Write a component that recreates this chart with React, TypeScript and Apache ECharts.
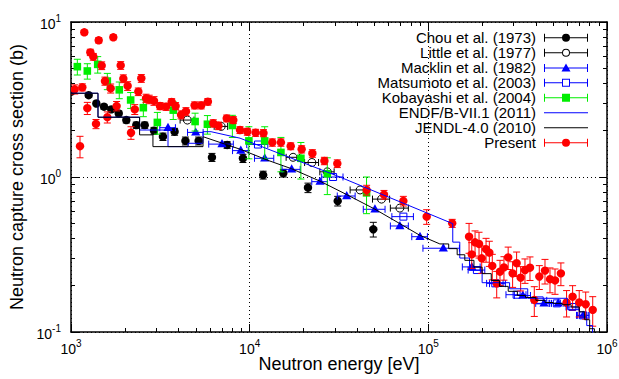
import React, { useEffect, useRef } from "react";
import * as echarts from "echarts";

const FONT = "'Liberation Sans', Arial, Helvetica, sans-serif";

// [energy eV, sigma b, d sigma b, d energy eV]
const chouData = [
  [1004, 3.55, 0.1, 0], [1256, 3.37, 0.1, 0], [1386, 2.98, 0.1, 0], [1530, 2.84, 0.1, 0],
  [1681, 2.73, 0.1, 0], [1850, 2.57, 0.1, 0], [2040, 2.33, 0.1, 0], [2320, 2.16, 0.1, 0],
  [2585, 2.16, 0.1, 0], [2915, 1.99, 0.1, 0], [3270, 1.82, 0.1, 0], [3800, 1.96, 0.1, 0],
  [4370, 1.71, 0.1, 0], [5180, 1.71, 0.1, 0], [6150, 1.34, 0.08, 0], [7480, 1.61, 0.08, 0],
  [9170, 1.32, 0.08, 0], [11900, 1.03, 0.06, 0], [15430, 1.06, 0.06, 0], [21200, 0.853, 0.06, 0],
  [31100, 0.70, 0.05, 0], [49200, 0.46, 0.05, 0],
];
const littleData = [
  [4480, 2.33, 0, 400], [6930, 2.12, 0, 600], [17500, 1.34, 0, 1500], [22300, 1.24, 0, 2000],
  [27200, 1.08, 0, 2500], [41500, 0.825, 0, 5000], [54700, 0.72, 0, 6000], [69300, 0.63, 0, 8000],
];
const macklinData = [
  [3491, 2.08, 0, 350], [4990, 1.94, 0, 500], [7000, 1.63, 0, 1100], [8920, 1.48, 0, 900],
  [12140, 1.32, 0, 1500], [17180, 1.12, 0, 2000], [24770, 0.933, 0, 2500], [34930, 0.754, 0, 4000],
  [50250, 0.619, 0, 7000], [69300, 0.483, 0, 8000], [89800, 0.412, 0, 9000], [121300, 0.347, 0, 28000],
  [175000, 0.263, 0, 20000], [245000, 0.205, 0, 25000], [338000, 0.172, 0, 35000],
  [444000, 0.153, 0, 45000], [533000, 0.153, 0, 55000], [735000, 0.128, 0, 60000],
];
const matsumotoData = [
  [11130, 1.62, 0, 1500], [29300, 1.0, 0, 4000], [72500, 0.555, 0, 10000], [187000, 0.251, 0, 20000],
  [237000, 0.206, 0, 25000], [312000, 0.174, 0, 40000], [420000, 0.16, 0, 40000],
  [524000, 0.153, 0, 50000], [640000, 0.145, 0, 50000], [735000, 0.128, 0, 50000],
];
const kobayashiData = [
  [1085, 5.15, 0.6, 0], [1234, 4.83, 0.55, 0], [1411, 5.33, 0.65, 0], [1597, 4.16, 0.5, 0],
  [1863, 3.65, 0.45, 0], [2157, 3.14, 0.37, 0], [2540, 2.8, 0.35, 0], [3043, 2.25, 0.36, 0],
  [3735, 2.7, 0.35, 0], [4950, 2.28, 0.3, 0], [5800, 2.19, 0.3, 0], [8000, 2.15, 0.35, 0],
  [9900, 1.71, 0.4, 0], [12140, 1.71, 0.4, 0], [14960, 1.44, 0.36, 0], [19350, 1.32, 0.35, 0],
  [27200, 1.05, 0.28, 0], [45100, 0.79, 0.21, 0],
];
const presentData = [
  [1049, 3.68, 0.25, 0], [1123, 1.58, 0.25, 0], [1157, 3.79, 0.2, 0], [1187, 8.58, 0.3, 0],
  [1234, 2.78, 0.25, 0], [1283, 6.37, 0.3, 0], [1333, 5.97, 0.3, 0], [1380, 2.2, 0.15, 0],
  [1429, 7.62, 0.3, 0], [1485, 5.23, 0.3, 0], [1549, 4.16, 0.25, 0], [1597, 2.43, 0.2, 0],
  [1667, 3.73, 0.25, 0], [1725, 7.97, 0.3, 0], [1800, 2.87, 0.2, 0], [1897, 5.25, 0.3, 0],
  [1963, 4.31, 0.25, 0], [2075, 3.87, 0.25, 0], [2167, 1.93, 0.18, 0], [2275, 2.73, 0.2, 0],
  [2381, 3.55, 0.2, 0], [2475, 4.33, 0.25, 0], [2630, 3.22, 0.2, 0], [2740, 3.17, 0.2, 0],
  [2915, 3.10, 0.2, 0], [3148, 2.87, 0.15, 0], [3405, 2.84, 0.15, 0], [3660, 3.05, 0.15, 0],
  [3850, 2.87, 0.15, 0], [4130, 2.52, 0.15, 0], [4400, 2.65, 0.15, 0], [4920, 2.9, 0.15, 0],
  [5355, 2.9, 0.15, 0], [5836, 3.06, 0.15, 0], [6259, 2.22, 0.12, 0], [6690, 2.14, 0.12, 0],
  [7440, 2.39, 0.12, 0], [8100, 2.33, 0.12, 0], [8830, 2.01, 0.1, 0], [9700, 1.96, 0.1, 0],
  [10800, 1.93, 0.1, 0], [11950, 1.92, 0.1, 0], [13390, 1.67, 0.09, 0], [14960, 1.67, 0.09, 0],
  [16970, 1.58, 0.08, 0], [19540, 1.51, 0.08, 0], [22440, 1.42, 0.08, 0], [26200, 1.27, 0.07, 0],
  [30940, 1.22, 0.07, 0], [45150, 0.824, 0.06, 0], [56460, 0.769, 0.05, 0], [72470, 0.70, 0.05, 0],
  [97900, 0.555, 0.06, 0], [136000, 0.503, 0.03, 0], [169000, 0.412, 0.09, 0], [175000, 0.317, 0.06, 0],
  [182600, 0.379, 0.07, 0], [192200, 0.37, 0.07, 0], [199000, 0.299, 0.06, 0], [210400, 0.342, 0.06, 0],
  [219500, 0.325, 0.06, 0], [228000, 0.267, 0.05, 0], [241400, 0.206, 0.04, 0], [251800, 0.245, 0.045, 0],
  [265000, 0.261, 0.045, 0], [279800, 0.303, 0.05, 0], [296300, 0.239, 0.045, 0], [312000, 0.278, 0.05, 0],
  [328600, 0.224, 0.04, 0], [347500, 0.251, 0.045, 0], [370700, 0.26, 0.045, 0], [391800, 0.161, 0.035, 0],
  [418000, 0.228, 0.04, 0], [449700, 0.249, 0.045, 0], [479700, 0.219, 0.04, 0], [511800, 0.215, 0.04, 0],
  [552000, 0.239, 0.04, 0], [594000, 0.155, 0.03, 0], [642000, 0.169, 0.03, 0], [699000, 0.155, 0.03, 0],
  [760000, 0.151, 0.03, 0], [832000, 0.139, 0.03, 0],
];
// evaluated curves: [energy eV, sigma b] vertices
const endfCurve = [
  [1000, 3.47], [1416, 3.47], [1416, 2.43], [2421, 2.43], [2421, 2.01], [3491, 2.01], [3491, 1.57],
  [4520, 1.57], [4520, 1.65], [5480, 1.65], [5480, 1.96], [6080, 1.96], [8830, 1.78], [32000, 1.0],
  [137000, 0.5], [137000, 0.38], [150000, 0.38], [150000, 0.3], [170000, 0.3], [170000, 0.25],
  [200000, 0.25], [200000, 0.208], [285000, 0.208], [285000, 0.19], [360000, 0.19], [360000, 0.165],
  [600000, 0.165], [600000, 0.14], [700000, 0.14], [700000, 0.125], [770000, 0.125], [770000, 0.11],
  [830000, 0.11], [830000, 0.095],
];
const jendlCurve = [
  [1000, 3.47], [1416, 3.47], [1416, 2.43], [2421, 2.43], [2421, 1.87], [2875, 1.87], [2875, 1.57],
  [5480, 1.57], [5480, 1.82], [8850, 1.51], [12680, 1.28], [17180, 1.13], [24770, 0.94], [34930, 0.77],
  [50250, 0.62], [69300, 0.5], [89800, 0.42], [116000, 0.37], [130000, 0.37], [130000, 0.345],
  [145000, 0.345], [145000, 0.315], [160000, 0.315], [160000, 0.29], [180000, 0.29], [180000, 0.262],
  [200000, 0.262], [200000, 0.238], [225000, 0.238], [225000, 0.215], [250000, 0.215], [250000, 0.197],
  [280000, 0.197], [280000, 0.183], [315000, 0.183], [315000, 0.172], [350000, 0.172], [350000, 0.167],
  [400000, 0.167], [400000, 0.16], [450000, 0.16], [450000, 0.155], [500000, 0.155], [500000, 0.153],
  [560000, 0.153], [560000, 0.15], [630000, 0.15], [630000, 0.145], [700000, 0.145], [700000, 0.135],
  [750000, 0.135], [750000, 0.12], [800000, 0.12], [800000, 0.105], [850000, 0.105], [850000, 0.09],
];

const seriesNames = [
  "Chou et al. (1973)", "Little et al. (1977)", "Macklin et al. (1982)", "Matsumoto et al. (2003)",
  "Kobayashi et al. (2004)", "ENDF/B-VII.1 (2011)", "JENDL-4.0 (2010)", "Present",
];

const RED = "#ff0000", GREEN = "#00ee00", BLUE = "#0000ff", BLACK = "#000000";

const BAR = "M0 4.5H44V5.5H0Z M0 1H1V9H0Z M43 1H44V9H43Z";
const BAR_SPLIT = "M0 4.5H18V5.5H0Z M26 4.5H44V5.5H26Z M0 1H1V9H0Z M43 1H44V9H43Z";
const ICONS: Record<string, string> = {
  dot: "path://" + BAR + " M18 5A4 4 0 1 1 26 5A4 4 0 1 1 18 5Z",
  ring: "path://" + BAR_SPLIT + " M18 5A4 4 0 1 1 26 5A4 4 0 1 1 18 5Z M19 5A3 3 0 1 0 25 5A3 3 0 1 0 19 5Z",
  tri: "path://" + BAR + " M22 0.5L26.5 8.5H17.5Z",
  osq: "path://" + BAR_SPLIT + " M18 1H26V9H18Z M19 2V8H25V2Z",
  sq: "path://" + BAR + " M18 1H26V9H18Z",
  line: "path://M0 4.5H44V5.5H0Z",
};

function marker(kind: string, x: number, y: number, color: string): any {
  switch (kind) {
    case "dot":
      return { type: "circle", shape: { cx: x, cy: y, r: 4.2 }, style: { fill: color } };
    case "ring":
      return { type: "circle", shape: { cx: x, cy: y, r: 4 }, style: { fill: "none", stroke: color, lineWidth: 1 } };
    case "tri":
      return { type: "polygon", shape: { points: [[x, y - 5], [x + 4.6, y + 3.2], [x - 4.6, y + 3.2]] }, style: { fill: color } };
    case "sq":
      return { type: "rect", shape: { x: x - 3.8, y: y - 3.8, width: 7.6, height: 7.6 }, style: { fill: color } };
    default:
      return { type: "rect", shape: { x: x - 3.5, y: y - 3.5, width: 7, height: 7 }, style: { fill: "none", stroke: color, lineWidth: 1 } };
  }
}

function errSeries(name: string, data: number[][], color: string, kind: string) {
  return {
    type: "custom",
    name,
    data,
    color,
    itemStyle: { color },
    clip: true,
    encode: { x: 0, y: 1 },
    renderItem: (_params: any, api: any) => {
      const E = api.value(0), s = api.value(1), ds = api.value(2), dE = api.value(3);
      const c = api.coord([E, s]);
      const ch: any[] = [];
      const ls = { stroke: color, lineWidth: 1, fill: "none" };
      const cap = 3.5;
      if (ds > 0) {
        const t = api.coord([E, s + ds])[1];
        const b = api.coord([E, s - ds])[1];
        ch.push({ type: "line", shape: { x1: c[0], y1: t, x2: c[0], y2: b }, style: ls });
        ch.push({ type: "line", shape: { x1: c[0] - cap, y1: t, x2: c[0] + cap, y2: t }, style: ls });
        ch.push({ type: "line", shape: { x1: c[0] - cap, y1: b, x2: c[0] + cap, y2: b }, style: ls });
      }
      if (dE > 0) {
        const l = api.coord([E - dE, s])[0];
        const r = api.coord([E + dE, s])[0];
        ch.push({ type: "line", shape: { x1: l, y1: c[1], x2: r, y2: c[1] }, style: ls });
        ch.push({ type: "line", shape: { x1: l, y1: c[1] - cap, x2: l, y2: c[1] + cap }, style: ls });
        ch.push({ type: "line", shape: { x1: r, y1: c[1] - cap, x2: r, y2: c[1] + cap }, style: ls });
      }
      ch.push(marker(kind, c[0], c[1], color));
      return { type: "group", children: ch };
    },
  };
}

const supLabel = (v: number) => `{b|10}{s|${Math.round(Math.log10(v))}}`;
const rich = {
  b: { fontSize: 14, fontFamily: FONT, color: "#000", lineHeight: 18, verticalAlign: "bottom" },
  s: { fontSize: 10, fontFamily: FONT, color: "#000", lineHeight: 10, verticalAlign: "top" },
};

function logAxis(min: number, max: number, extra: any) {
  return {
    type: "log",
    logBase: 10,
    min,
    max,
    interval: 1,
    axisLine: { show: true, lineStyle: { color: "#000", width: 1.5 } },
    axisTick: { show: true, inside: true, length: 8, lineStyle: { color: "#000", width: 1 } },
    minorTick: { show: true, splitNumber: 9, length: 4, lineStyle: { color: "#000", width: 1 } },
    splitLine: { show: false },
    ...extra,
  };
}

export default function App() {
  const ref = useRef<HTMLDivElement>(null);
  useEffect(() => {
    if (!ref.current) return;
    const chart = echarts.init(ref.current, undefined, { renderer: "svg" });
    const dotted = { show: true, lineStyle: { color: "#000", type: [1, 3], width: 1 } };
    const option: any = {
      animation: false,
      backgroundColor: "#fff",
      grid: { left: 71, top: 22, width: 536, height: 310, outerBoundsMode: "none" },
      xAxis: [
        logAxis(1000, 1e6, {
          position: "bottom",
          splitLine: dotted,
          axisLabel: { formatter: supLabel, rich, margin: 6 },
          name: "Neutron energy [eV]",
          nameLocation: "middle",
          nameGap: 23,
          nameMoveOverlap: false,
          nameTextStyle: { fontSize: 18, fontFamily: FONT, color: "#000" },
        }),
        logAxis(1000, 1e6, { position: "top", axisLabel: { show: false } }),
      ],
      yAxis: [
        logAxis(0.1, 10, {
          position: "left",
          splitLine: dotted,
          axisLabel: { formatter: supLabel, rich, margin: 10 },
          name: "Neutron capture cross section (b)",
          nameLocation: "middle",
          nameGap: 40,
          nameTextStyle: { fontSize: 18, fontFamily: FONT, color: "#000" },
        }),
        logAxis(0.1, 10, { position: "right", axisLabel: { show: false } }),
      ],
      legend: {
        orient: "vertical",
        align: "right",
        right: 31,
        top: 30.3,
        padding: 0,
        itemGap: 0,
        itemWidth: 44,
        itemHeight: 10,
        selectedMode: false,
        itemStyle: { borderWidth: 0 },
        textStyle: { fontSize: 15, fontFamily: FONT, color: "#000", lineHeight: 14.86, padding: [0, 3, 0, 0] },
        data: [
          { name: seriesNames[0], icon: ICONS.dot, itemStyle: { color: BLACK } },
          { name: seriesNames[1], icon: ICONS.ring, itemStyle: { color: BLACK } },
          { name: seriesNames[2], icon: ICONS.tri, itemStyle: { color: BLUE } },
          { name: seriesNames[3], icon: ICONS.osq, itemStyle: { color: BLUE } },
          { name: seriesNames[4], icon: ICONS.sq, itemStyle: { color: GREEN } },
          { name: seriesNames[5], icon: ICONS.line, itemStyle: { color: BLUE } },
          { name: seriesNames[6], icon: ICONS.line, itemStyle: { color: BLACK } },
          { name: seriesNames[7], icon: ICONS.dot, itemStyle: { color: RED } },
        ],
      },
      series: [
        errSeries(seriesNames[0], chouData, BLACK, "dot"),
        errSeries(seriesNames[1], littleData, BLACK, "ring"),
        errSeries(seriesNames[2], macklinData, BLUE, "tri"),
        errSeries(seriesNames[3], matsumotoData, BLUE, "osq"),
        errSeries(seriesNames[4], kobayashiData, GREEN, "sq"),
        {
          type: "line", name: seriesNames[5], data: endfCurve, symbol: "none", showSymbol: false,
          color: BLUE, lineStyle: { color: BLUE, width: 1 }, clip: true,
        },
        {
          type: "line", name: seriesNames[6], data: jendlCurve, symbol: "none", showSymbol: false,
          color: BLACK, lineStyle: { color: BLACK, width: 1 }, clip: true,
        },
        errSeries(seriesNames[7], presentData, RED, "dot"),
      ],
    };
    chart.setOption(option);
    return () => chart.dispose();
  }, []);
  return <div ref={ref} style={{ position: "fixed", left: 0, top: 0, width: 619, height: 379 }} />;
}
